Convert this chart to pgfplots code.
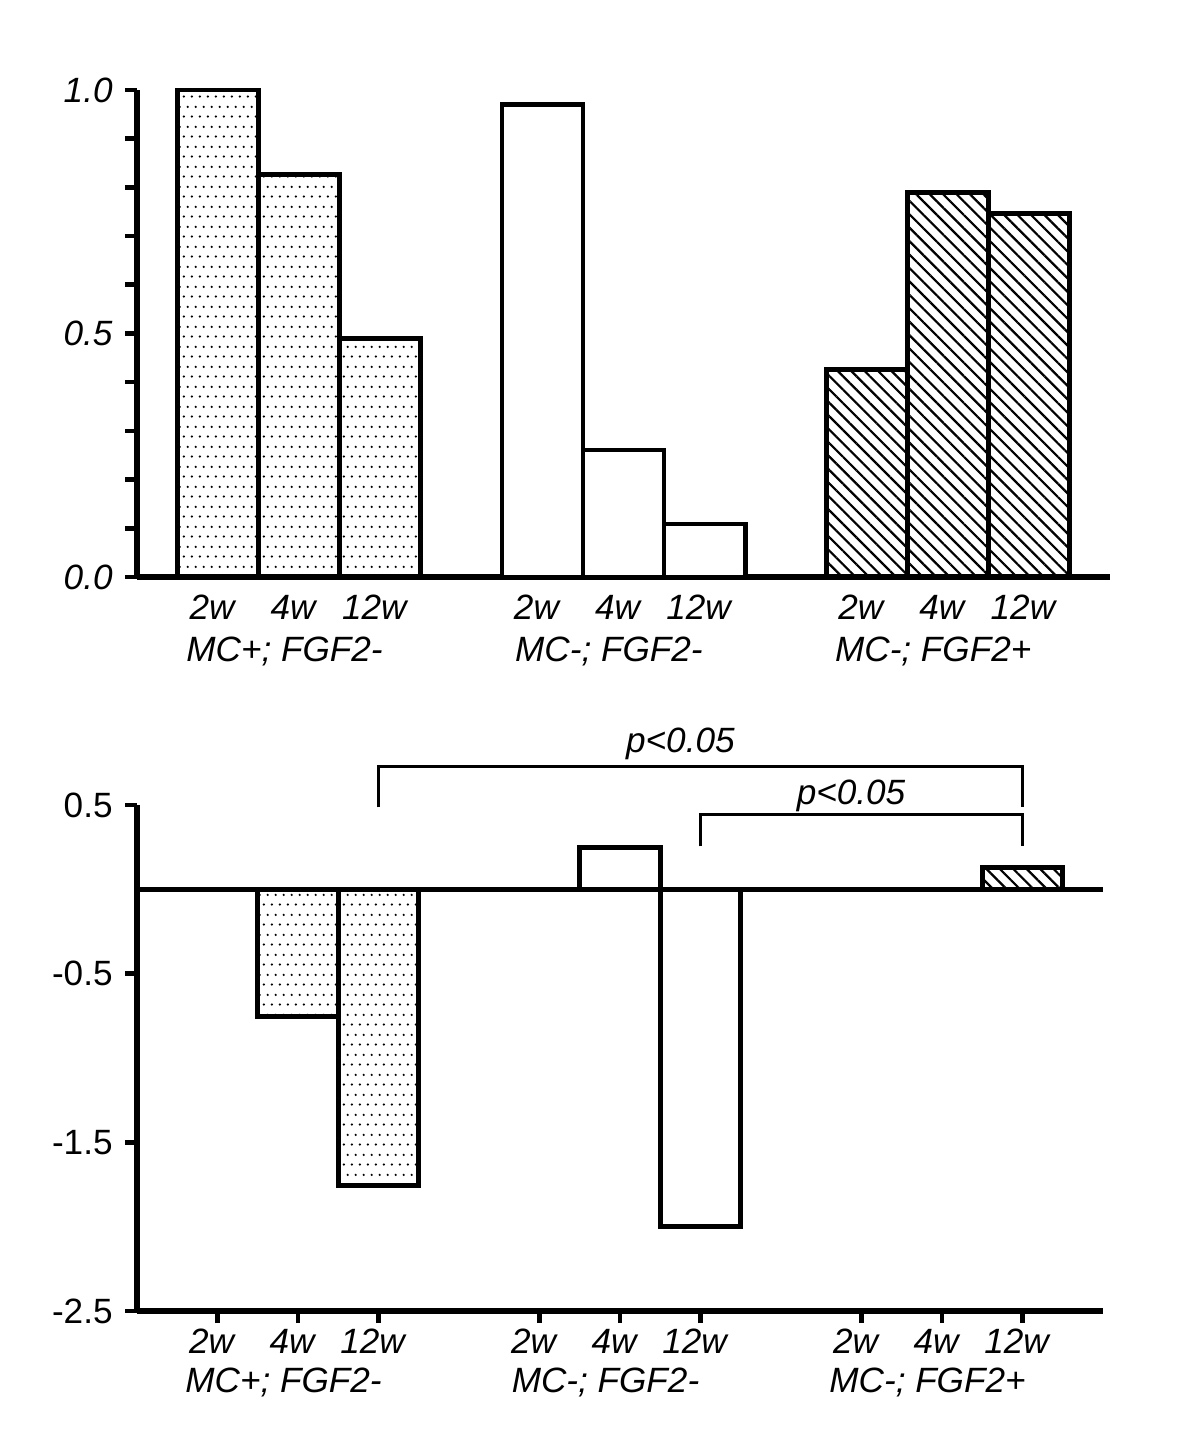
\documentclass[border=0pt]{standalone}
\usepackage{fontspec}
\setmainfont{Liberation Sans}
\usepackage{pgfplots}
\pgfplotsset{compat=1.18}
\usetikzlibrary{patterns.meta}

% staggered dot screen of the first group
\pgfdeclarepattern{
  name=stagdots,
  bottom left={\pgfpoint{0mm}{0mm}},
  top right={\pgfpoint{0.83mm}{1.96mm}},
  tile size={\pgfpoint{0.83mm}{1.96mm}},
  code={
    \pgfpathcircle{\pgfpoint{0.2mm}{0.25mm}}{0.13mm}
    \pgfpathcircle{\pgfpoint{0.615mm}{1.23mm}}{0.13mm}
    \pgfusepath{fill}
  }
}

\tikzset{
  dotfill/.style={pattern=stagdots, pattern color=black},
  hatchfill/.style={pattern={Lines[angle=-45, distance=0.95mm, line width=0.22mm]}, pattern color=black},
  barline/.style={draw=black, line width=1.35pt},
  grp/.style={font=\fontsize{10}{12}\selectfont\itshape, anchor=base},
}

\pgfplotsset{
  panel/.style={
    scale only axis,
    xmin=-1, xmax=11,
    axis x line*=bottom, axis y line*=left,
    axis line style={line width=1.5pt},
    tick style={line width=1.3pt, black},
    tick align=outside,
    major tick length=1.2mm, minor tick length=1.2mm,
    ybar, bar width=1,
    clip=false,
    xtick={0,1,2,4,5,6,8,9,10},
    xticklabels={2w,4w,12w,2w,4w,12w,2w,4w,12w},
    xticklabel style={font=\fontsize{10}{12}\selectfont\itshape, xshift=-0.6mm, yshift=0.6mm},
    yticklabel style={font=\fontsize{10}{12}\selectfont},
  },
}

\begin{document}
\begin{tikzpicture}
\path (0,0) rectangle (120mm,144.1mm);

% upper panel
\begin{axis}[panel,
  at={(13.7mm,86.4mm)}, anchor=south west,
  width=97.3mm, height=48.7mm,
  ymin=0, ymax=1,
  ytick={0,0.5,1},
  yticklabels={\textit{0.0},\textit{0.5},\textit{1.0}},
  minor ytick={0.1,0.2,0.3,0.4,0.6,0.7,0.8,0.9},
  xtick style={draw=none},
]
\addplot[bar shift=0pt, barline, dotfill] coordinates {(0,1.0)(1,0.827)(2,0.49)};
\addplot[bar shift=0pt, barline, fill=white] coordinates {(4,0.970)(5,0.261)(6,0.109)};
\addplot[bar shift=0pt, barline, hatchfill] coordinates {(8,0.426)(9,0.789)(10,0.747)};
\node[grp] at (axis cs:0.82,-0.1745) {MC+; FGF2-};
\node[grp] at (axis cs:4.82,-0.1745) {MC-; FGF2-};
\node[grp] at (axis cs:8.82,-0.1745) {MC-; FGF2+};
\end{axis}

% lower panel
\begin{axis}[panel,
  at={(13.7mm,13.0mm)}, anchor=south west,
  width=96.6mm, height=50.6mm,
  ymin=-2.5, ymax=0.5,
  ytick={-2.5,-1.5,-0.5,0.5},
  yticklabels={-2.5,-1.5,-0.5,0.5},
]
\draw[line width=1.4pt] (axis cs:-1,0) -- (axis cs:11,0);
\addplot[bar shift=0pt, barline, dotfill] coordinates {(0,0)(1,-0.753)(2,-1.755)};
\addplot[bar shift=0pt, barline, fill=white] coordinates {(4,0)(5,0.249)(6,-2.0)};
\addplot[bar shift=0pt, barline, hatchfill] coordinates {(8,0)(9,0)(10,0.13)};
\draw[line width=0.95pt] (axis cs:2,0.486) -- (axis cs:2,0.729) -- (axis cs:10,0.729) -- (axis cs:10,0.486);
\draw[line width=0.95pt] (axis cs:6,0.255) -- (axis cs:6,0.445) -- (axis cs:10,0.445) -- (axis cs:10,0.255);
\node[grp] at (axis cs:5.75,0.812) {p<0.05};
\node[grp] at (axis cs:7.87,0.504) {p<0.05};
\node[grp] at (axis cs:0.82,-2.986) {MC+; FGF2-};
\node[grp] at (axis cs:4.82,-2.986) {MC-; FGF2-};
\node[grp] at (axis cs:8.82,-2.986) {MC-; FGF2+};
\end{axis}
\end{tikzpicture}
\end{document}
